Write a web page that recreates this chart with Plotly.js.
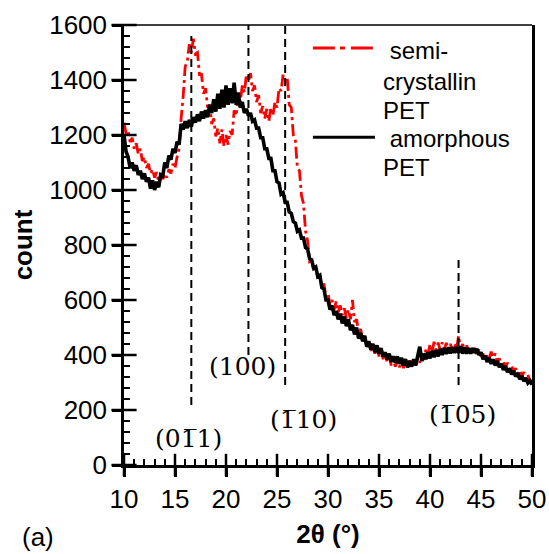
<!DOCTYPE html>
<html>
<head>
<meta charset="utf-8">
<script src="https://cdn.plot.ly/plotly-3.0.1.min.js"></script>
<style>html,body{margin:0;padding:0;background:#fff;}#chart{width:549px;height:554px;}</style>
</head>
<body>
<div id="chart"></div>
<script>
// 2θ scan: start angle and step (degrees)
const scanStart = 10;
const scanStep = 0.2;

// semi-crystalline PET counts, 10° to 50° every 0.2°
const semiCrystalline = [
  1245,1205,1215,1175,1190,1150,1170,1130,1150,1105,
  1120,1080,1095,1060,1075,1045,1065,1030,1050,1040,
  1060,1045,1075,1060,1095,1080,1120,1150,1260,1340,
  1450,1465,1530,1500,1550,1495,1500,1420,1420,1350,
  1370,1300,1310,1240,1260,1195,1225,1170,1220,1160,
  1200,1165,1215,1200,1290,1270,1345,1320,1380,1355,
  1420,1395,1425,1360,1380,1320,1345,1280,1305,1260,
  1295,1250,1300,1270,1320,1300,1370,1360,1420,1400,
  1410,1310,1300,1200,1180,1080,1070,980,950,850,
  815,740,745,705,715,680,690,645,660,610,
  625,580,600,565,595,555,580,545,570,535,
  565,530,600,520,530,480,495,450,470,430,
  450,415,440,405,430,395,420,385,405,375,
  395,362,385,358,380,355,378,352,378,355,
  380,358,385,362,390,372,402,382,420,400,
  440,410,448,418,445,418,446,420,444,418,
  440,415,442,420,470,420,440,412,435,408,
  430,405,426,400,420,395,405,380,398,385,
  412,390,405,372,388,362,378,355,372,348,
  362,338,352,330,345,320,338,312,328,302,
  308
];

// amorphous PET counts, 10° to 50° every 0.2°
const amorphous = [
  1200,1140,1120,1080,1100,1070,1090,1055,1070,1040,
  1060,1030,1045,1005,1035,1000,1030,1010,1055,1050,
  1100,1080,1125,1110,1150,1135,1175,1165,1240,1220,
  1250,1225,1255,1230,1265,1245,1275,1250,1285,1260,
  1290,1265,1310,1280,1330,1285,1350,1295,1365,1300,
  1380,1310,1370,1315,1390,1310,1355,1300,1320,1280,
  1295,1270,1280,1250,1255,1225,1225,1190,1190,1150,
  1150,1115,1115,1070,1070,1030,1025,985,990,955,
  955,920,915,885,880,850,855,825,825,790,
  785,750,745,715,720,685,690,645,640,600,
  600,565,580,545,560,530,550,515,540,505,
  530,490,510,475,500,460,480,450,470,430,
  450,420,440,410,435,405,425,395,410,385,
  405,375,395,372,395,368,390,362,385,355,
  378,358,385,362,398,430,378,405,385,410,
  388,415,392,418,395,422,400,425,404,428,
  406,428,408,430,408,432,405,428,405,425,
  405,425,408,422,400,410,385,398,375,390,
  368,384,362,378,356,368,346,360,338,350,
  330,342,322,334,312,324,305,316,298,306,
  292
];

// axis tick values
const xTickVals = [10, 15, 20, 25, 30, 35, 40, 45, 50];
const yTickVals = [0, 200, 400, 600, 800, 1000, 1200, 1400, 1600];

// reflection markers: position (2θ), dashed line bottom/top (count), label and label anchor
const peakAngles  = [16.6, 22.2, 25.8, 42.8];
const peakLineLow = [218, 400, 291, 291];
const peakLineHigh= [1560, 1600, 1600, 764];
const peakLabels  = ['(01\u03051)', '(100)', '(1\u030510)', '(1\u030505)'];
const labelAngles = [16.3, 21.6, 27.6, 43.2];
const labelCounts = [98, 360, 164, 182];

const legendNames = [['semi-', 'crystallin', 'PET'], ['amorphous', 'PET']];

const traces = [
  {x0: scanStart, dx: scanStep, y: semiCrystalline, type: 'scatter', mode: 'lines', name: 'semi-crystallin PET',
   line: {color: '#ff0000', width: 2.8, dash: '12px,4px,3px,4px'}},
  {x0: scanStart, dx: scanStep, y: amorphous, type: 'scatter', mode: 'lines', name: 'amorphous PET',
   line: {color: '#000000', width: 3.6}},
  // major tick marks crossing the y axis
  {x: yTickVals.map(() => xTickVals[0]), y: yTickVals, type: 'scatter', mode: 'markers', cliponaxis: false,
   hoverinfo: 'skip', showlegend: false,
   marker: {symbol: 'line-ew-open', size: 18, color: '#000', line: {width: 2.5, color: '#000'}}},
  // major tick marks crossing the x axis
  {x: xTickVals, y: xTickVals.map(() => yTickVals[0]), type: 'scatter', mode: 'markers', cliponaxis: false,
   hoverinfo: 'skip', showlegend: false,
   marker: {symbol: 'line-ns-open', size: 16, color: '#000', line: {width: 2.5, color: '#000'}}}
];

const shapes = [];
peakAngles.forEach((a, i) => {
  shapes.push({type: 'line', xref: 'x', yref: 'y', x0: a, x1: a, y0: peakLineLow[i], y1: peakLineHigh[i],
    line: {color: '#000', width: 2, dash: '8px,5px'}, layer: 'above'});
});
// top frame line
shapes.push({type: 'line', xref: 'paper', yref: 'paper', x0: 0, x1: 1, y0: 1, y1: 1, line: {color: '#000', width: 1.5}});
// legend samples
shapes.push({type: 'line', xref: 'paper', yref: 'paper', x0: 0.463, x1: 0.615, y0: 0.948, y1: 0.948,
  line: {color: '#ff0000', width: 3, dash: '22px,5px,5px,6px'}});
shapes.push({type: 'line', xref: 'paper', yref: 'paper', x0: 0.463, x1: 0.615, y0: 0.745, y1: 0.745,
  line: {color: '#000', width: 3}});

const annotations = [];
peakLabels.forEach((t, i) => {
  annotations.push({x: labelAngles[i], y: labelCounts[i], xref: 'x', yref: 'y', text: t, showarrow: false,
    font: {family: 'DejaVu Serif', size: 25, color: '#000'}, xanchor: 'center', yanchor: 'middle'});
});
const legendRows = [
  {t: ' ' + legendNames[0][0], x: 0.632, y: 0.943},
  {t: legendNames[0][1], x: 0.632, y: 0.872},
  {t: legendNames[0][2], x: 0.632, y: 0.805},
  {t: ' ' + legendNames[1][0], x: 0.632, y: 0.743},
  {t: legendNames[1][1], x: 0.632, y: 0.677}
];
legendRows.forEach(r => {
  annotations.push({x: r.x, y: r.y, xref: 'paper', yref: 'paper', text: r.t, showarrow: false,
    xanchor: 'left', yanchor: 'middle', borderpad: 0, font: {size: 24, color: '#000'}});
});
annotations.push({x: -0.211, y: -0.1636, xref: 'paper', yref: 'paper', text: '(a)', showarrow: false,
  xanchor: 'center', yanchor: 'middle', font: {size: 26, color: '#000'}});

const layout = {
  width: 549, height: 554,
  margin: {l: 124, r: 17, t: 25, b: 89},
  showlegend: false,
  font: {family: 'Liberation Sans, Arial, sans-serif', size: 26, color: '#000'},
  xaxis: {
    range: [10, 50], tickvals: xTickVals, ticks: 'outside', ticklen: 9, tickwidth: 2.5, tickcolor: '#000000',
    showline: true, linewidth: 2.5, linecolor: '#000000', showgrid: false, zeroline: false,
    minor: {dtick: 1, ticks: 'inside', ticklen: 6, tickwidth: 2, tickcolor: '#000000'},
    title: {text: '<b>2θ (°)</b>', font: {size: 26}, standoff: 12}
  },
  yaxis: {
    range: [0, 1600], tickvals: yTickVals, ticks: 'outside', ticklen: 9, tickwidth: 2.5, tickcolor: '#000000',
    showline: true, linewidth: 2.5, linecolor: '#000000', mirror: true, showgrid: false, zeroline: false,
    minor: {dtick: 40, ticks: 'inside', ticklen: 6, tickwidth: 2, tickcolor: '#000000'},
    title: {text: '<b>count</b>', font: {size: 26}, standoff: 10}
  },
  shapes: shapes,
  annotations: annotations
};

Plotly.newPlot('chart', traces, layout, {displayModeBar: false});
</script>
</body>
</html>
